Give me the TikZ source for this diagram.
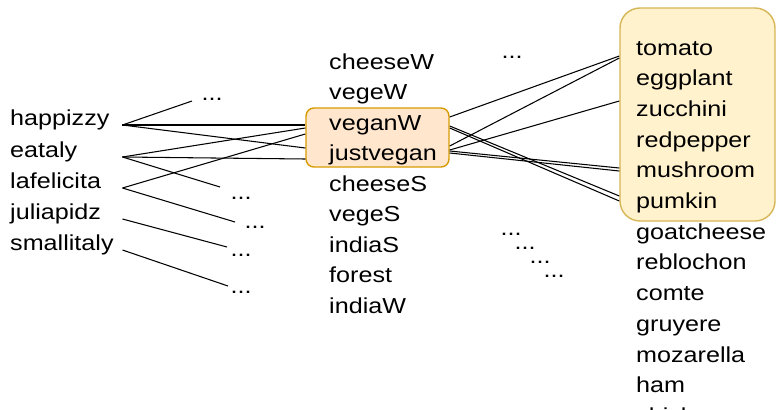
\documentclass[tikz,border=0pt]{standalone}
\usepackage{fontspec}
\setmainfont{Liberation Sans}[FakeStretch=1.16]
\usepackage{tikz}
\usetikzlibrary{calc}
\definecolor{hlfill}{HTML}{FFE6CC}
\definecolor{hldraw}{HTML}{D79B00}
\definecolor{grpfill}{HTML}{FFF2CC}
\definecolor{grpdraw}{HTML}{D6B656}
\tikzset{
  lbl/.style={anchor=base west, inner sep=0pt, font=\fontsize{18.5pt}{26pt}\selectfont},
  src/.style={lbl, text width=3.36cm},
  dotsym/.style={anchor=base, inner sep=0pt, font=\fontsize{18.5pt}{26pt}\selectfont},
  link/.style={line width=0.9pt, draw=black},
  hlbox/.style={fill=hlfill, draw=hldraw, line width=1.2pt, rounded corners=0.24cm, inner sep=0pt},
  grpbox/.style={fill=grpfill, draw=grpdraw, line width=1.2pt, rounded corners=0.6cm, inner sep=0pt},
}

\begin{document}
\begin{tikzpicture}[x=0.03cm, y=-0.03cm]
\clip (0,0) rectangle (776,409);
% boxes
\node[hlbox, minimum width=4.29cm, minimum height=1.77cm] (mbox) at (377.5,137.5) {};
\node[grpbox, minimum width=4.65cm, minimum height=6.39cm] (rbox) at (697.5,114.5) {};
% shops
\node[src] (happizzy) at (10,125) {happizzy};
\node[src] (eataly) at (10,157) {eataly};
\node[src] (lafelicita) at (10,188) {lafelicita};
\node[src] (juliapidz) at (10,219) {juliapidz};
\node[src] (smallitaly) at (10,250) {smallitaly};
% pizzas
\node[lbl] (cheeseW) at (329,69) {cheeseW};
\node[lbl] (vegeW) at (329,99.5) {vegeW};
\node[lbl] (veganW) at (329,130) {veganW};
\node[lbl] (justvegan) at (329,160.5) {justvegan};
\node[lbl] (cheeseS) at (329,191) {cheeseS};
\node[lbl] (vegeS) at (329,221.5) {vegeS};
\node[lbl] (indiaS) at (329,252) {indiaS};
\node[lbl] (forest) at (329,282.5) {forest};
\node[lbl] (indiaW) at (329,313) {indiaW};
% toppings
\node[lbl] (tomato) at (636,55) {tomato};
\node[lbl] (eggplant) at (636,85.7) {eggplant};
\node[lbl] (zucchini) at (636,116.4) {zucchini};
\node[lbl] (redpepper) at (636,147.1) {redpepper};
\node[lbl] (mushroom) at (636,177.8) {mushroom};
\node[lbl] (pumkin) at (636,208.5) {pumkin};
\node[lbl] (goatcheese) at (636,239.2) {goatcheese};
\node[lbl] (reblochon) at (636,269.9) {reblochon};
\node[lbl] (comte) at (636,300.6) {comte};
\node[lbl] (gruyere) at (636,331.3) {gruyere};
\node[lbl] (mozarella) at (636,362) {mozarella};
\node[lbl] (ham) at (636,392.7) {ham};
\node[lbl] (chicken) at (636,423.4) {chicken};
% ellipses
\node[dotsym] (d1) at (212,100) {...};
\node[dotsym] (d2) at (241,199) {...};
\node[dotsym] (d3) at (255,228) {...};
\node[dotsym] (d4) at (241,256) {...};
\node[dotsym] (d5) at (241,293) {...};
\node[dotsym] (d6) at (512,58) {...};
\node[dotsym] (d7) at (511,235) {...};
\node[dotsym] (d8) at (525,249) {...};
\node[dotsym] (d9) at (540,263) {...};
\node[dotsym] (d10) at (554,277) {...};
% free ends
\coordinate (e1) at (192,101);
\coordinate (e2) at (220,187);
\coordinate (e3) at (235,222);
\coordinate (e4) at (227,247);
\coordinate (e5) at (228,286);
% shop links
\draw[link] (happizzy.base east) -- (e1);
\draw[link] (happizzy.base east) -- (mbox.west |- happizzy.base);
\draw[link] (happizzy.base east) -- ($(mbox.west)+(0,10.5)$);
\draw[link] (eataly.base east) -- ($(mbox.west)+(0,-9.5)$);
\draw[link] (eataly.base east) -- ($(mbox.west)+(0,21.5)$);
\draw[link] (eataly.base east) -- (e2);
\draw[link] (lafelicita.base east) -- ($(mbox.west)+(0,-3.5)$);
\draw[link] (lafelicita.base east) -- (e3);
\draw[link] (juliapidz.base east) -- (e4);
\draw[link] (smallitaly.base east) -- (e5);
% topping links
\draw[link] ($(mbox.east)+(0,-20.5)$) -- ($(rbox.west)+(0,-58.5)$);
\draw[link] ($(mbox.east)+(0,-11.5)$) -- ($(rbox.west)+(0,81.5)$);
\draw[link] ($(mbox.east)+(0,-9.5)$) -- ($(rbox.west)+(0,86.5)$);
\draw[link] ($(mbox.east)+(0,8.5)$) -- ($(rbox.west)+(0,-56.5)$);
\draw[link] ($(mbox.east)+(0,12.5)$) -- ($(rbox.west)+(0,-13.5)$);
\draw[link] ($(mbox.east)+(0,13.5)$) -- ($(rbox.west)+(0,53.5)$);
\draw[link] ($(mbox.east)+(0,15.5)$) -- ($(rbox.west)+(0,56.5)$);
\end{tikzpicture}
\end{document}
